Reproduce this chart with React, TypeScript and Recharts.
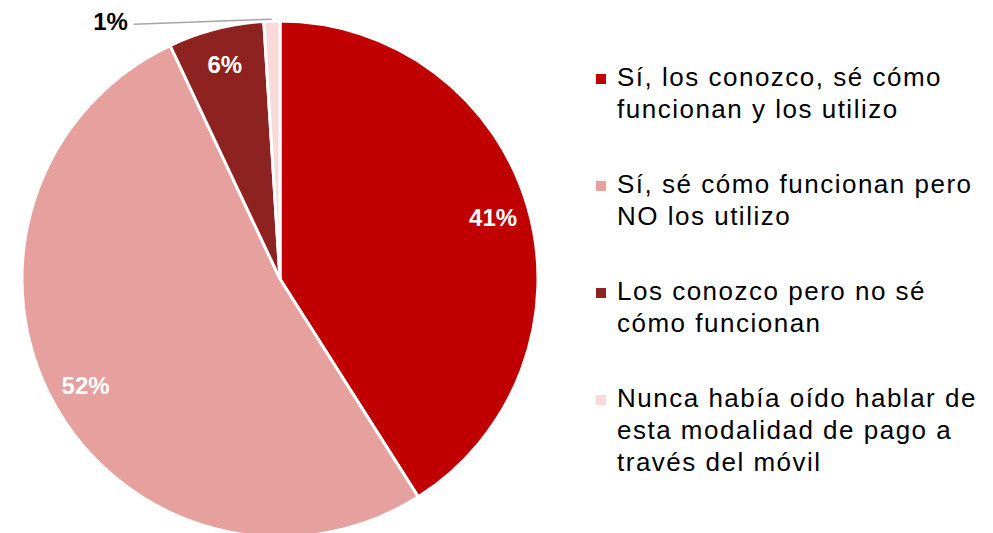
import React from 'react';
import { PieChart, Pie, Cell, Legend } from 'recharts';

const categories = [
  'Sí, los conozco, sé cómo funcionan y los utilizo',
  'Sí, sé cómo funcionan pero NO los utilizo',
  'Los conozco pero no sé cómo funcionan',
  'Nunca había oído hablar de esta modalidad de pago a través del móvil',
];
const shares = [41, 52, 6, 1];
const colors = ['#C00000', '#E6A09E', '#8E2220', '#F8DADA'];

const data = categories.map((name, i) => ({ name, value: shares[i] }));

const RADIAN = Math.PI / 180;
const FONT = '"Liberation Sans", Arial, sans-serif';

const renderLabel = (props: any) => {
  const { cx, cy, midAngle, outerRadius, value } = props;
  const cos = Math.cos(-midAngle * RADIAN);
  const sin = Math.sin(-midAngle * RADIAN);
  if (value < 3) {
    // small slice: label outside with a leader line
    const sx = cx + (outerRadius + 2) * cos;
    const sy = cy + (outerRadius + 2) * sin;
    const ex = sx - 138;
    const ey = sy + 5;
    return (
      <g>
        <line x1={sx} y1={sy} x2={ex} y2={ey} stroke="#A6A6A6" strokeWidth={1.5} />
        <text x={ex - 6} y={ey - 3} textAnchor="end" dominantBaseline="central"
          fontFamily={FONT} fontWeight="bold" fontSize={24} fill="#000">
          {`${value}%`}
        </text>
      </g>
    );
  }
  const r = outerRadius * 0.86;
  return (
    <text x={cx + r * cos} y={cy + r * sin} textAnchor="middle" dominantBaseline="central"
      fontFamily={FONT} fontWeight="bold" fontSize={24} fill="#fff">
      {`${value}%`}
    </text>
  );
};

const renderLegend = () => (
  <div style={{ fontFamily: FONT, fontSize: 26, letterSpacing: 1.5, color: '#000', lineHeight: '32px' }}>
    {data.map((d, i) => (
      <div key={d.name} style={{ display: 'flex', marginBottom: 43 }}>
        <span style={{ width: 10, height: 10, background: colors[i], marginTop: 13, marginRight: 11, flex: 'none' }} />
        <span style={{ width: 370 }}>{d.name}</span>
      </div>
    ))}
  </div>
);

export default function App() {
  return (
    <div style={{ position: 'absolute', left: 0, top: 0, background: '#fff' }}>
      <PieChart width={993} height={533}>
        <Pie
          data={data}
          dataKey="value"
          nameKey="name"
          cx={275}
          cy={274}
          outerRadius={258}
          startAngle={90}
          endAngle={-270}
          stroke="#fff"
          strokeWidth={3}
          label={renderLabel}
          labelLine={false}
          isAnimationActive={false}
        >
          {data.map((d, i) => (
            <Cell key={d.name} fill={colors[i]} />
          ))}
        </Pie>
        <Legend
          content={renderLegend}
          wrapperStyle={{ position: 'absolute', left: 596, top: 61, width: 395 }}
        />
      </PieChart>
    </div>
  );
}
